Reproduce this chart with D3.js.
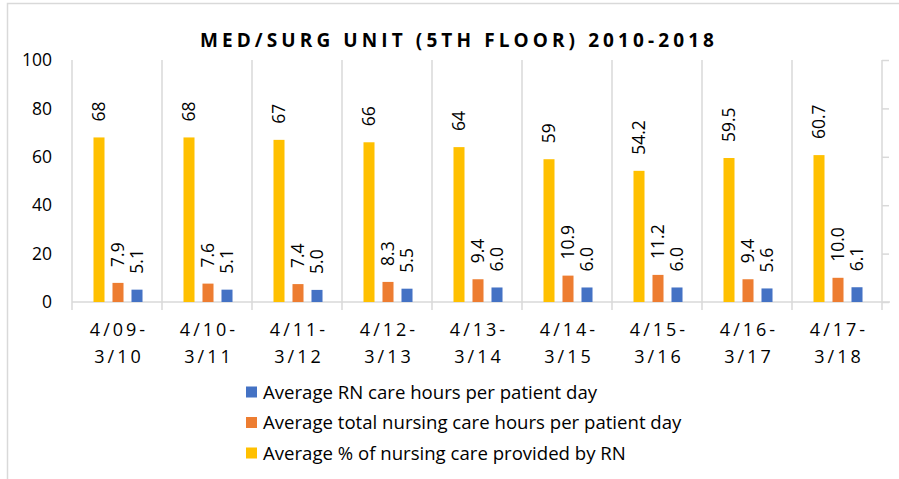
<!DOCTYPE html>
<meta charset="utf-8">
<title>med/surg unit</title>
<style>

body {
  margin: 0;
  background: #fff;
}

text {
  font-family: "Open Sans", Lato, sans-serif;
  fill: #000;
}

.grid line, .grid path {
  stroke: #d9d9d9;
  stroke-width: 1.5px;
}

.title {
  font-weight: bold;
  font-size: 19px;
  letter-spacing: 4.1px;
}

.tick-label {
  font-size: 17.5px;
}

.cat {
  font-size: 18px;
  letter-spacing: 3px;
}

.value {
  font-size: 17.5px;
}

.legend text {
  font-size: 18.6px;
}

</style>
<body>
<script src="https://cdn.jsdelivr.net/npm/d3@7"></script>
<script>

var width = 899,
    height = 479;

var periods = [["4/09-", "3/10"], ["4/10-", "3/11"], ["4/11-", "3/12"], ["4/12-", "3/13"],
               ["4/13-", "3/14"], ["4/14-", "3/15"], ["4/15-", "3/16"], ["4/16-", "3/17"],
               ["4/17-", "3/18"]];

var pctByRN = [68, 68, 67, 66, 64, 59, 54.2, 59.5, 60.7],
    totalHours = [7.9, 7.6, 7.4, 8.3, 9.4, 10.9, 11.2, 9.4, 10.0],
    rnHours = [5.1, 5.1, 5.0, 5.5, 6.0, 6.0, 6.0, 5.6, 6.1];

var yTicks = [0, 20, 40, 60, 80, 100];

var series = [
  {key: "pct", name: "Average % of nursing care provided by RN", color: "#ffc000", values: pctByRN, fmt: function(v) { return String(v); }},
  {key: "total", name: "Average total nursing care hours per patient day", color: "#ed7d31", values: totalHours, fmt: function(v) { return v.toFixed(1); }},
  {key: "rn", name: "Average RN care hours per patient day", color: "#4472c4", values: rnHours, fmt: function(v) { return v.toFixed(1); }}
];

var svg = d3.select("body").append("svg")
    .attr("width", width)
    .attr("height", height);

// chart border (only top and left show in the crop)
svg.append("path")
    .attr("d", "M7.5," + height + "V3.5H" + width)
    .attr("fill", "none")
    .attr("stroke", "#d9d9d9")
    .attr("stroke-width", 1.5);

var x = d3.scaleBand()
    .domain(d3.range(periods.length))
    .range([72, 882]);

var inner = d3.scaleBand()
    .domain(series.map(function(s) { return s.key; }))
    .range([17.5, 74.5])
    .paddingInner(0.42)
    .paddingOuter(0.21);

var y = d3.scaleLinear()
    .domain([0, 100])
    .range([302, 60]);

svg.append("text")
    .attr("class", "title")
    .attr("x", 459)
    .attr("y", 47)
    .attr("text-anchor", "middle")
    .text("MED/SURG UNIT (5TH FLOOR) 2010-2018");

// vertical separators between categories
var grid = svg.append("g").attr("class", "grid");

grid.selectAll("line.sep")
    .data(d3.range(periods.length))
    .enter().append("line")
    .attr("class", "sep")
    .attr("x1", function(i) { return x(i); })
    .attr("x2", function(i) { return x(i); })
    .attr("y1", y(100))
    .attr("y2", y(0) + 8);

grid.append("line")
    .attr("x1", x(0))
    .attr("x2", x.range()[1] + 8)
    .attr("y1", y(0))
    .attr("y2", y(0));

// the empty axis on the right
grid.append("g")
    .attr("transform", "translate(" + x.range()[1] + ",0)")
    .call(d3.axisRight(y).tickValues(yTicks).tickSize(7).tickSizeOuter(0).tickFormat(""))
    .call(function(g) { g.select(".domain").attr("d", "M0," + y(100) + "V" + (y(0) + 8)); });

svg.selectAll("text.tick-label")
    .data(yTicks)
    .enter().append("text")
    .attr("class", "tick-label")
    .attr("x", 52)
    .attr("y", function(d) { return y(d); })
    .attr("dy", "0.35em")
    .attr("text-anchor", "end")
    .text(function(d) { return d; });

var cat = svg.selectAll("g.cat")
    .data(periods)
    .enter().append("g")
    .attr("class", "cat")
    .attr("transform", function(d, i) { return "translate(" + (x(i) + x.bandwidth() / 2 + 2) + ",0)"; });

cat.append("text")
    .attr("y", 336)
    .attr("text-anchor", "middle")
    .text(function(d) { return d[0]; });

cat.append("text")
    .attr("y", 363)
    .attr("text-anchor", "middle")
    .text(function(d) { return d[1]; });

series.forEach(function(s) {
  var g = svg.append("g");

  g.selectAll("rect")
      .data(s.values)
      .enter().append("rect")
      .attr("x", function(d, i) { return x(i) + inner(s.key); })
      .attr("width", inner.bandwidth())
      .attr("y", function(d) { return y(d); })
      .attr("height", function(d) { return y(0) - y(d); })
      .attr("fill", s.color);

  g.selectAll("text")
      .data(s.values)
      .enter().append("text")
      .attr("class", "value")
      .attr("transform", function(d, i) {
        return "translate(" + (x(i) + inner(s.key) + inner.bandwidth() / 2) + "," + (y(d) - 16) + ")rotate(-90)";
      })
      .attr("dy", "0.35em")
      .text(function(d) { return s.fmt(d); });
});

// legend, listed in reverse series order
var legend = svg.selectAll("g.legend")
    .data(series.slice().reverse())
    .enter().append("g")
    .attr("class", "legend")
    .attr("transform", function(d, i) { return "translate(246," + (392 + i * 30.5) + ")"; });

legend.append("rect")
    .attr("y", -5.5)
    .attr("width", 11)
    .attr("height", 11)
    .attr("fill", function(d) { return d.color; });

legend.append("text")
    .attr("x", 17)
    .attr("dy", "0.35em")
    .text(function(d) { return d.name; });

</script>
</body>
</html>
